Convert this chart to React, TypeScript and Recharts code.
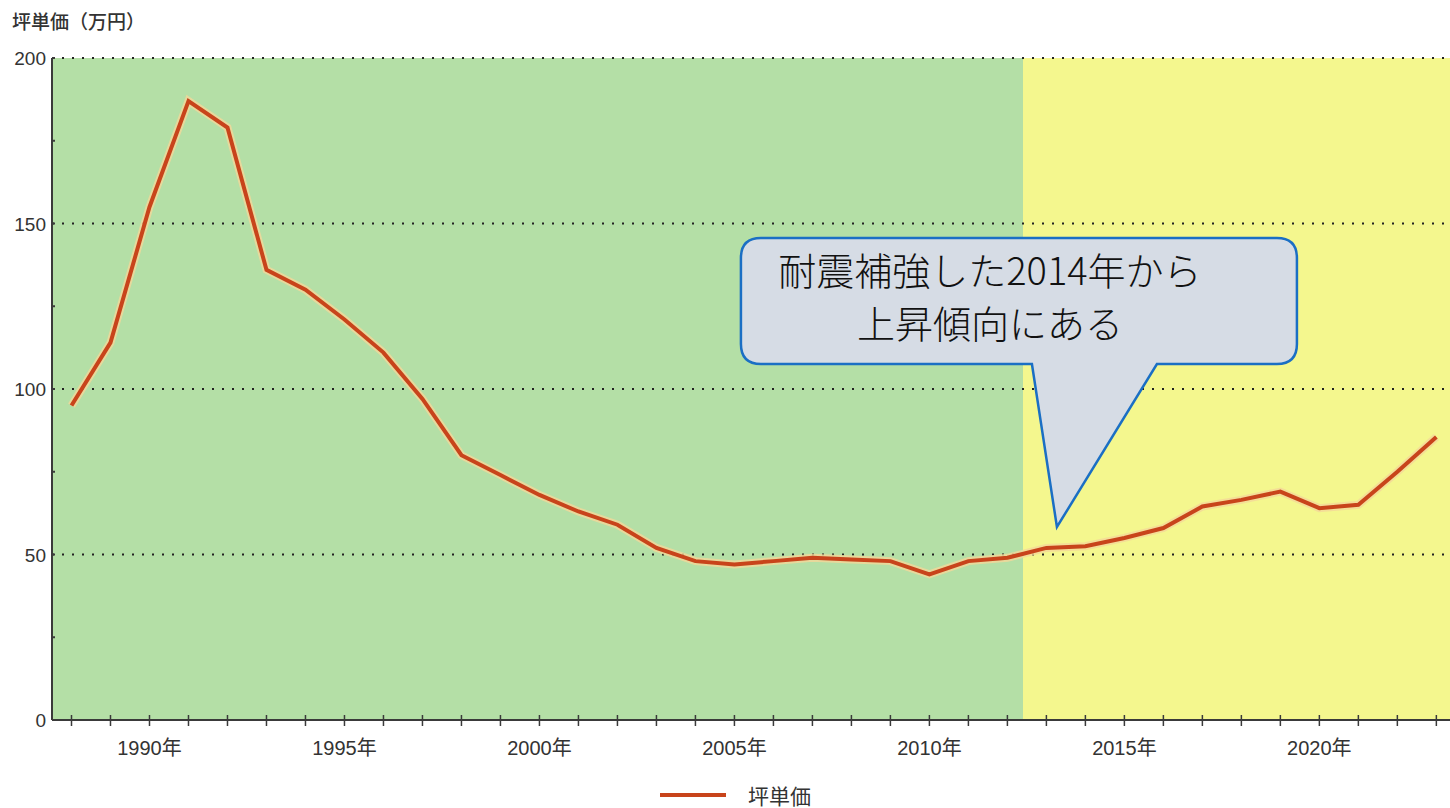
import { LineChart, Line, XAxis, YAxis, ReferenceArea, ReferenceLine, ReferenceDot, Legend } from 'recharts';

// 年ごとの坪単価（万円）
const years = [
    1988, 1989, 1990, 1991, 1992, 1993, 1994, 1995, 1996, 1997, 1998, 1999,
    2000, 2001, 2002, 2003, 2004, 2005, 2006, 2007, 2008, 2009, 2010, 2011,
    2012, 2013, 2014, 2015, 2016, 2017, 2018, 2019, 2020, 2021, 2022, 2023,
];
const prices = [
    95, 114, 155, 187, 179, 136, 130, 121, 111, 97, 80, 74,
    68, 63, 59, 52, 48, 47, 48, 49, 48.5, 48, 44, 48,
    49, 52, 52.5, 55, 58, 64.5, 66.5, 69, 64, 65, 75, 85.5,
];
const labelYears = [1990, 1995, 2000, 2005, 2010, 2015, 2020];
const yTicks = [0, 25, 50, 75, 100, 125, 150, 175, 200];
const yLabels = [0, 50, 100, 150, 200];
const gridValues = [50, 100, 150, 200];

// 期間の区切り（耐震補強前 / 後）
const xMin = 1987.5;
const xMax = 2023.35;
const splitYear = 2012.4;

// 吹き出しの先端
const calloutYear = 2013.27;
const calloutValue = 58.3;
const calloutLines = ['耐震補強した2014年から', '上昇傾向にある'];

const data = years.map((year, i) => ({ year, price: prices[i] }));

const FONT = '"Liberation Sans", "Noto Sans CJK JP", sans-serif';
const AXIS = '#3a3a3a';
const LINE_COLOR = '#c8441b';

function XTick(props: any) {
    const { x, y, payload } = props;
    const showLabel = labelYears.includes(payload.value);
    return (
        <g>
            <line x1={x} x2={x} y1={y - 5} y2={y + 6} stroke={AXIS} strokeWidth={1.5} />
            {showLabel && (
                <text x={x} y={y + 35} textAnchor="middle" fontSize={20} fill="#333" fontFamily={FONT}>
                    {payload.value}年
                </text>
            )}
        </g>
    );
}

function YTick(props: any) {
    const { x, y, payload } = props;
    const showLabel = yLabels.includes(payload.value);
    return (
        <g>
            <line x1={x} x2={x + 3} y1={y} y2={y} stroke={AXIS} strokeWidth={2} />
            {showLabel && (
                <text x={x - 6} y={y + 7} textAnchor="end" fontSize={19} fill="#333" fontFamily={FONT}>
                    {payload.value}
                </text>
            )}
        </g>
    );
}

function Callout(props: any) {
    const { cx, cy } = props;
    const L = -316, R = 240, T = -289, B = -163, r = 20;
    const baseA = -25, baseB = 100;
    const d = [
        `M${L + r},${T}`,
        `H${R - r}`,
        `Q${R},${T} ${R},${T + r}`,
        `V${B - r}`,
        `Q${R},${B} ${R - r},${B}`,
        `H${baseB}`,
        `L0,0`,
        `L${baseA},${B}`,
        `H${L + r}`,
        `Q${L},${B} ${L},${B - r}`,
        `V${T + r}`,
        `Q${L},${T} ${L + r},${T}`,
        'Z',
    ].join(' ');
    return (
        <g transform={`translate(${cx},${cy})`}>
            <path d={d} fill="#d6dce5" stroke="#1b6fc4" strokeWidth={2.5} />
            {calloutLines.map((t, i) => (
                <text
                    key={i}
                    x={-67}
                    y={-242 + i * 53}
                    textAnchor="middle"
                    fontSize={38}
                    fontWeight={300}
                    fill="#111"
                    fontFamily='"Noto Sans CJK JP", sans-serif'
                >
                    {t}
                </text>
            ))}
        </g>
    );
}

function LegendContent() {
    return (
        <div style={{ height: 36, display: 'flex', justifyContent: 'center', alignItems: 'center', paddingTop: 10, boxSizing: 'border-box' }}>
            <svg width={66} height={8} style={{ marginLeft: 21 }}>
                <line x1={0} x2={66} y1={4} y2={4} stroke={LINE_COLOR} strokeWidth={4} />
            </svg>
            <span style={{ marginLeft: 22, fontSize: 21, color: '#333', fontFamily: FONT }}>坪単価</span>
        </div>
    );
}

export default function App() {
    return (
        <div style={{ position: 'relative', width: 1450, height: 808, background: '#fff' }}>
            <style>{'body{margin:0}'}</style>
            <div
                style={{
                    position: 'absolute',
                    left: 12,
                    top: 7,
                    fontSize: 19,
                    color: '#333',
                    fontFamily: '"Noto Sans CJK JP", sans-serif',
                    fontWeight: 500,
                }}
            >
                坪単価（万円）
            </div>
            <LineChart width={1450} height={808} data={data} margin={{ top: 58, right: 0, left: 0, bottom: 0 }}>
                <XAxis
                    dataKey="year"
                    type="number"
                    domain={[xMin, xMax]}
                    ticks={years}
                    interval={0}
                    allowDataOverflow
                    height={52}
                    tickSize={0}
                    tickMargin={0}
                    tickLine={false}
                    tick={<XTick />}
                    axisLine={{ stroke: AXIS, strokeWidth: 2 }}
                />
                <YAxis
                    type="number"
                    domain={[0, 200]}
                    ticks={yTicks}
                    interval={0}
                    width={52}
                    tickSize={0}
                    tickMargin={0}
                    tickLine={false}
                    tick={<YTick />}
                    axisLine={{ stroke: AXIS, strokeWidth: 2 }}
                />
                <ReferenceArea x1={xMin} x2={splitYear} y1={0} y2={200} fill="#b4dfa6" fillOpacity={1} stroke="none" />
                <ReferenceArea x1={splitYear} x2={xMax} y1={0} y2={200} fill="#f4f78e" fillOpacity={1} stroke="none" />
                {gridValues.map((v) => (
                    <ReferenceLine key={v} y={v} stroke="#222" strokeWidth={2} strokeDasharray="2 8" />
                ))}
                <Legend verticalAlign="bottom" height={36} content={<LegendContent />} />
                <Line
                    type="linear"
                    dataKey="price"
                    stroke="#f4d79a"
                    strokeWidth={8}
                    strokeOpacity={0.8}
                    dot={false}
                    activeDot={false}
                    legendType="none"
                    isAnimationActive={false}
                />
                <Line
                    type="linear"
                    dataKey="price"
                    name="坪単価"
                    stroke={LINE_COLOR}
                    strokeWidth={4}
                    dot={false}
                    activeDot={false}
                    isAnimationActive={false}
                />
                <ReferenceDot x={calloutYear} y={calloutValue} r={0} shape={<Callout />} />
            </LineChart>
        </div>
    );
}
